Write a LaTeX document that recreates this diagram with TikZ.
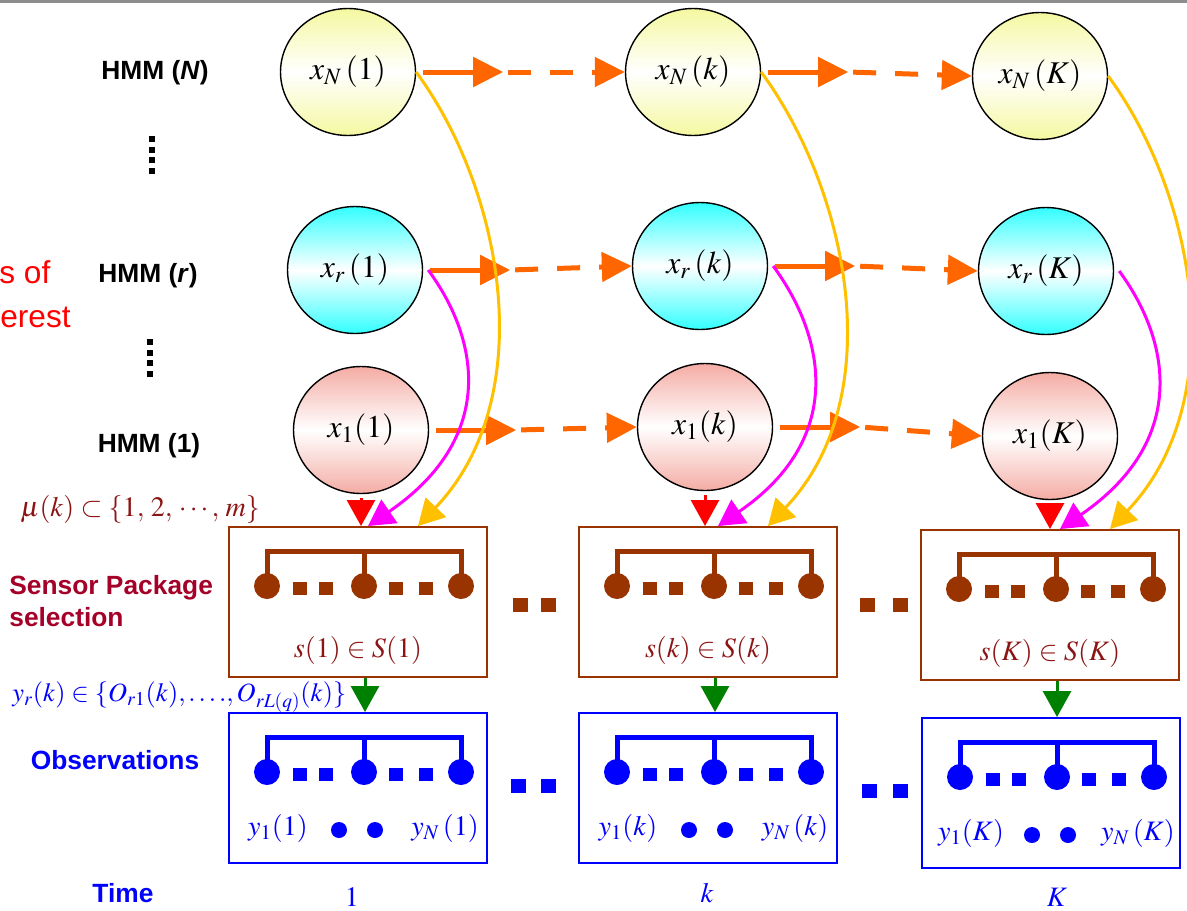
\documentclass[tikz,border=0pt]{standalone}
\usepackage{mathptmx}
\usepackage[no-math]{fontspec}
\setmainfont{Liberation Serif}
\setsansfont{Liberation Sans}
\usetikzlibrary{arrows.meta,shapes.geometric,positioning,calc}

\definecolor{trorange}{RGB}{255,102,0}
\definecolor{feedgold}{RGB}{255,192,0}
\definecolor{feedpink}{RGB}{255,0,255}
\definecolor{pkgbrown}{RGB}{153,51,0}
\definecolor{pkgred}{RGB}{165,0,40}
\definecolor{setred}{RGB}{140,20,20}
\definecolor{emgreen}{RGB}{0,128,0}
\definecolor{emred}{RGB}{255,0,0}
\definecolor{obsblue}{RGB}{0,0,255}
\definecolor{stateyellow}{RGB}{244,248,160}
\definecolor{statecyan}{RGB}{51,255,255}
\definecolor{statepink}{RGB}{244,172,164}

\tikzset{
  hstate/.style={ellipse, minimum width=2.7cm, minimum height=2.54cm, inner sep=0pt, draw=black, line width=0.8pt, font=\fontsize{18}{20}\selectfont},
  stateN/.style={hstate, top color=stateyellow, bottom color=stateyellow, middle color=white},
  stater/.style={hstate, top color=statecyan, bottom color=statecyan, middle color=white},
  state1/.style={hstate, top color=statepink, bottom color=statepink, middle color=white},
  rowlabel/.style={font=\sffamily\bfseries\fontsize{15}{17}\selectfont, align=left, inner sep=0pt},
  trans/.style={trorange, line width=0.1cm, -{Triangle[length=0.6cm,width=0.58cm]}},
  transdash/.style={trans, dash pattern=on 0.46cm off 0.38cm, shorten <=0.1cm},
  feed/.style={line width=0.06cm, -{Triangle[length=0.52cm,width=0.56cm]}},
  pack/.style={rectangle, draw=pkgbrown, line width=0.04cm, minimum width=5.16cm, minimum height=3cm},
  obs/.style={rectangle, draw=obsblue, line width=0.04cm, minimum width=5.16cm, minimum height=3cm},
  mathlab/.style={font=\fontsize{16}{18}\selectfont, inner sep=0pt}
}

% comb of sensors / observations drawn inside a box
\newcommand{\pkgcomb}[2]{%
  \begin{scope}[shift={(#1.center)}]
    \draw[#2, line width=0.1cm] (-91,-17) -- (-91,-51) -- (103,-51) -- (103,-17)
                                (6,-51) -- (6,-17);
    \foreach \cx in {-91,6,103} \fill[#2] (\cx,-16) circle (0.26cm);
    \foreach \sx in {-58,-32,38,68} \fill[#2] (\sx-7,-20) rectangle ++(14,13);
  \end{scope}}

\begin{document}
\begin{tikzpicture}[x=0.02cm, y=-0.02cm]
  \useasboundingbox (0,0) rectangle (1187,910);
  \clip (0,0) rectangle (1187,910);
  \fill[black!45] (0,0) rectangle (1187,3);

  % hidden states
  \node[stateN] (xN1) at (348,72) {$x_N\,(1)$};
  \node[stateN] (xNk) at (693,72) {$x_N\,(k)$};
  \node[stateN] (xNK) at (1040,76) {$x_N\,(K)$};
  \node[stater] (xr1) at (355,270) {$x_r\,(1)$};
  \node[stater] (xrk) at (700,266) {$x_r\,(k)$};
  \node[stater] (xrK) at (1046,271) {$x_r\,(K)$};
  \node[state1] (x11) at (361,430) {$x_1(1)$};
  \node[state1] (x1k) at (705,427) {$x_1(k)$};
  \node[state1] (x1K) at (1050,436) {$x_1(K)$};

  \node[rowlabel] (hN) at (155,73) {HMM (\textit{N})};
  \node[rowlabel] (hr) at (148,276) {HMM (\textit{r})};
  \node[rowlabel] (h1) at (149,446) {HMM (1)};
  \foreach \i in {0,...,3} {
    \fill (149,136+10.5*\i) rectangle ++(6,6);
    \fill (147,339+10.5*\i) rectangle ++(6,6);
  }
  \node[anchor=base west, red, inner sep=0pt, font=\sffamily\fontsize{18}{22}\selectfont] (roi1) at (-1,283) {s of};
  \node[anchor=base west, red, inner sep=0pt, font=\sffamily\fontsize{18}{22}\selectfont] (roi2) at (0,327) {erest};

  % sensor packages and observations
  \node[pack] (sp1) at (358,602) {};
  \node[pack] (spk) at (708,602) {};
  \node[pack] (spK) at (1050,605) {};
  \node[obs] (ob1) at (358,788) {};
  \node[obs] (obk) at (708,788) {};
  \node[obs] (obK) at (1051,793) {};

  \foreach \col/\t in {1/1, k/k, K/K} {
    \pkgcomb{sp\col}{pkgbrown}
    \pkgcomb{ob\col}{obsblue}
    \node[mathlab, setred] at ([shift={(0,48)}]sp\col.center) {$s(\t)\in S(\t)$};
    \node[mathlab, obsblue] at ([shift={(-80,40)}]ob\col.center) {$y_1(\t)$};
    \node[mathlab, obsblue] at ([shift={(87,40)}]ob\col.center) {$y_N\,(\t)$};
    \fill[obsblue] ([shift={(-19,42)}]ob\col.center) circle (0.16cm);
    \fill[obsblue] ([shift={(17,42)}]ob\col.center) circle (0.16cm);
  }

  % dots between the time slices
  \foreach \x/\y in {520/605, 548/605, 867/605, 900/605}
    \fill[pkgbrown] (\x-7,\y-7) rectangle ++(15,14);
  \foreach \x/\y in {518/786, 548/786, 869/791, 900/791}
    \fill[obsblue] (\x-7,\y-7) rectangle ++(15,14);

  % state transitions
  \foreach \a/\b in {xN1/xNk, xNk/xNK, xr1/xrk, xrk/xrK, x11/x1k, x1k/x1K} {
    \draw[trans] ([xshift=0.14cm]\a.east) -- ++(80,0) coordinate (m\a);
    \draw[transdash] (m\a) -- (\b.west);
  }

  % states feeding the sensor selection
  \foreach \col in {1,k,K} {
    \draw[feed, feedgold] (xN\col.east) .. controls +(88,120) and +(122,-128) .. ([xshift=1.2cm]sp\col.north);
    \draw[feed, feedpink] ([xshift=0.1cm]xr\col.east) .. controls +(53,72) and +(127,-87) .. ([xshift=0.2cm]sp\col.north);
    \draw[feed, emred, shorten <=0.08cm] (x1\col.south) -- (x1\col.south |- sp\col.north);
    \draw[feed, emgreen] ([xshift=0.14cm]sp\col.south) -- ([xshift=0.14cm]sp\col.south |- ob\col.north);
  }

  % left-hand annotations
  \node[mathlab, setred, anchor=west, font=\fontsize{16}{18}\selectfont] (mu) at (20,509) {$\mu(k)\subset\{1,\,2,\,\cdots,\,m\}$};
  \node[rowlabel, pkgred, anchor=west] (sps) at (9,601) {Sensor Package\\[1pt]selection};
  \node[mathlab, obsblue, anchor=west, font=\fontsize{15}{17}\selectfont] (yr) at (12,697) {$y_r(k)\in\{O_{r1}(k),\ldots.,O_{rL(q)}(k)\}$};
  \node[rowlabel, obsblue] (obl) at (115,760) {Observations};

  % time axis
  \node[rowlabel, obsblue] (tm) at (123,893) {Time};
  \node[mathlab, obsblue] (t1) at (352,897) {$1$};
  \node[mathlab, obsblue] (tk) at (707,893) {$k$};
  \node[mathlab, obsblue] (tK) at (1057,897) {$K$};
\end{tikzpicture}
\end{document}
